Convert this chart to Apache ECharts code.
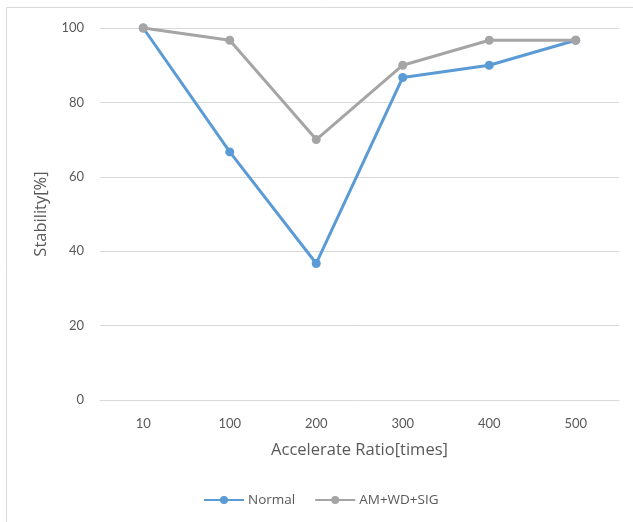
<!DOCTYPE html>
<html>
<head>
<meta charset="utf-8">
<script src="https://cdn.jsdelivr.net/npm/echarts@6/dist/echarts.min.js"></script>
<style>
  html, body { margin: 0; padding: 0; background: #fff; }
  #chart { width: 633px; height: 522px; }
</style>
</head>
<body>
<div id="chart"></div>
<script>
// Accelerate ratio categories and stability (%) for each configuration
const ratios = ['10', '100', '200', '300', '400', '500'];
const normal = [100, 66.7, 36.7, 86.7, 90, 96.7];
const amWdSig = [100, 96.7, 70, 90, 96.7, 96.7];
const yTicks = { min: 0, max: 100, interval: 20 };

const TICK_FONT = 'Lato, "Open Sans", sans-serif';
const TITLE_FONT = '"Open Sans", Lato, sans-serif';
const TEXT = '#595959';

const chart = echarts.init(document.getElementById('chart'), null, { renderer: 'canvas' });
chart.setOption({
  animation: false,
  backgroundColor: '#fff',
  graphic: [{
    type: 'rect',
    shape: { x: 6.5, y: 7.5, width: 700, height: 600 },
    style: { fill: 'none', stroke: '#d9d9d9', lineWidth: 1 },
    silent: true
  }],
  grid: { left: 100, right: 14, top: 28, bottom: 122, containLabel: false },
  legend: {
    bottom: 10,
    left: 198,
    itemWidth: 40,
    itemHeight: 10,
    itemGap: 19,
    textStyle: { color: TEXT, fontSize: 13.5, fontFamily: TITLE_FONT, padding: [0, 0, 0, -1] },
    data: ['Normal', 'AM+WD+SIG']
  },
  xAxis: {
    type: 'category',
    data: ratios,
    boundaryGap: true,
    name: 'Accelerate Ratio[times]',
    nameLocation: 'middle',
    nameGap: 42,
    nameTextStyle: { color: TEXT, fontSize: 16.5, fontFamily: TITLE_FONT },
    axisLine: { show: true, lineStyle: { color: '#d9d9d9', width: 1 } },
    axisTick: { show: false },
    axisLabel: { color: TEXT, fontSize: 13, margin: 17, fontFamily: TICK_FONT }
  },
  yAxis: {
    type: 'value',
    min: yTicks.min,
    max: yTicks.max,
    interval: yTicks.interval,
    name: 'Stability[%]',
    nameLocation: 'middle',
    nameGap: 50,
    nameRotate: 90,
    nameTextStyle: { color: TEXT, fontSize: 16.5, fontFamily: TITLE_FONT },
    axisLine: { show: false },
    axisTick: { show: false },
    axisLabel: { color: TEXT, fontSize: 13, margin: 16, fontFamily: TICK_FONT },
    splitLine: { show: true, lineStyle: { color: '#d9d9d9', width: 1 } }
  },
  series: [
    {
      name: 'Normal',
      type: 'line',
      data: normal,
      symbol: 'circle',
      symbolSize: 9,
      lineStyle: { color: '#5b9bd5', width: 3 },
      itemStyle: { color: '#5b9bd5' },
      z: 2
    },
    {
      name: 'AM+WD+SIG',
      type: 'line',
      data: amWdSig,
      symbol: 'circle',
      symbolSize: 9,
      lineStyle: { color: '#a5a5a5', width: 3 },
      itemStyle: { color: '#a5a5a5' },
      z: 3
    }
  ]
});
</script>
</body>
</html>
